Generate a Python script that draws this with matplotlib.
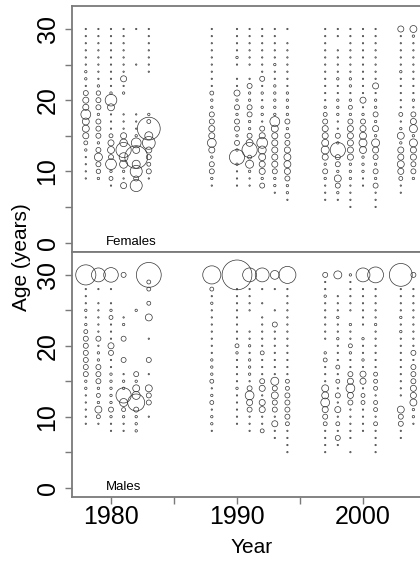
import matplotlib
matplotlib.use("Agg")
import matplotlib.pyplot as plt
import numpy as np

plt.rcParams['font.family'] = ['Liberation Sans', 'DejaVu Sans']

years = [1978, 1979, 1980, 1981, 1982, 1983, 1988, 1990, 1991, 1992, 1993, 1994,
         1997, 1998, 1999, 2000, 2001, 2003, 2004]
ages = list(range(30, 3, -1))  # 30 (plus group) down to 4

# proportion-at-age values (bubble area), ages 30..4, one row per year
females = [
    [.1,.1,.1,.1,.1, .1,.3,.3,.1,1.3, 1.9,1.9,5,2.5,2.5, 1.9,.8,.3,.1,.1, .1,.1,0,0,0, 0,0],  # 1978
    [.1,.1,.1,.1,.1, .1,.1,.1,.3,1.0, 1.3,1.3,.3,1.3,1.3, 1.3,.3,1.3,3.3,1.3, 1.0,.3,0,0,0, 0,0],  # 1979
    [.1,.1,.1,.1,.1, .1,.1,.1,.1,.3, 7,2.5,.1,.1,.1, .8,1.9,2.5,1.3,6, .3,.8,.1,0,0, 0,0],  # 1980
    [.1,.1,.1,.1,.1, .1,.1,1.9,.1,.3, 0,0,.1,.1,.1, 1.9,3,12,4,3.3, .3,.1,1.9,0,0, 0,0],  # 1981
    [.1,0,0,0,0, .1,0,0,0,0, 0,0,.1,.1,.1, .3,5,2.5,27,3.3, 7.5,1.3,7.5,0,0, 0,0],  # 1982
    [.1,.1,.1,.1,.1, .1,.1,0,0,0, 0,0,.3,.8,27, 3.3,8.5,1.9,1.3,.8, 1.3,.1,0,0,0, 0,0],  # 1983
    [.1,.1,.1,.1,.1, .1,.1,.1,.1,.8, .3,.3,1.3,1.3,1.9, 1.9,4,1.9,.3,1.3, 1.3,.3,.1,0,0, 0,0],  # 1988
    [.1,.1,.1,.1,.3, .1,0,.1,.1,1.9, .3,1.3,.3,1.3,1.3, .3,1.3,.3,12,.3, .1,.1,.1,0,0, 0,0],  # 1990
    [.1,.1,.1,.1,.1, .1,0,.1,1.3,.3, .3,1.3,1.3,.3,.3, 1.3,2.5,12,.8,3.3, .3,.1,.1,0,0, 0,0],  # 1991
    [.1,.1,.1,.1,.1, .1,.1,1.3,.1,.3, .1,.3,.3,.1,1.3, 1.9,6,3.3,2.5,1.9, 1.9,.3,1.3,0,0, 0,0],  # 1992
    [.1,.1,.1,.1,.1, .3,.1,.1,.3,.3, .3,.3,.3,5,2.5, 1.9,1.9,1.9,1.9,1.9, 1.3,.3,.3,.1,0, 0,0],  # 1993
    [.1,0,.1,.1,.1, .1,.1,.1,.1,.3, .3,.3,.3,1.3,.3, 1.3,1.3,1.9,2.5,2.5, 1.9,1.3,.3,.3,.1, 0,0],  # 1994
    [.1,.1,.1,.1,.1, .1,.1,.1,.1,.1, .1,.3,.8,1.3,1.9, 1.9,2.5,3.3,1.9,.3, 1.3,.3,.1,.1,.1, 0,0],  # 1997
    [.1,.1,0,.1,.1, .1,.1,.3,.1,.1, .3,.3,.3,.1,.1, 1.3,.3,12,1.3,1.3, .3,2.5,1.3,.3,.1, 0,0],  # 1998
    [.1,.1,.1,.1,.1, .1,.1,.3,.3,.1, .3,.8,.3,1.3,1.9, 1.9,1.9,1.9,1.9,.3, .3,.3,.1,.1,.1, .1,0],  # 1999
    [.1,.1,.1,.1,.1, .1,.1,.1,.1,.1, 1.9,.1,.3,1.3,1.9, 2.5,3.3,2.5,.3,.3, .3,.1,.1,0,0, 0,0],  # 2000
    [.1,.1,.1,.1,.1, .1,.1,.1,1.9,.1, .3,.3,1.3,.3,1.9, .3,3.3,1.9,1.3,.3, 1.3,.3,1.3,.1,.1, .1,0],  # 2001
    [1.9,.1,.1,.1,.1, .1,.3,.1,.1,.1, .1,.1,.8,.1,.3, 2.5,.3,1.9,1.9,2.5, 1.9,.8,.1,.1,0, 0,0],  # 2003
    [2.5,.3,.1,.1,.1, .1,.1,.1,.1,.1, .3,.1,1.3,1.9,3.3, .3,3.3,1.9,1.9,1.3, 1.3,.3,0,0,0, 0,0],  # 2004
]

males = [
    [21,0,.1,.1,.1, .3,.1,.3,.8,1.3, 1.3,1.3,1.3,1.3,1.3, .3,.3,.1,.1,.1, .1,.1,0,0,0, 0,0],  # 1978
    [10,0,.1,0,.1, .1,.1,.1,.1,1.3, .1,.3,.3,1.3,1.3, 1.3,.3,.8,.3,2.5, .8,.1,0,0,0, 0,0],  # 1979
    [11,0,.1,0,.1, .3,.8,.1,.1,.1, 1.9,1.3,.1,.1,.3, .3,.3,.3,.3,1.3, .3,.1,.1,0,0, 0,0],  # 1980
    [1.3,0,0,0,0, 0,.1,.3,0,1.3, 0,0,1.3,0,.1, .3,.3,12,3.3,.8, .3,.1,.1,0,0, 0,0],  # 1981
    [0,0,0,0,0, .3,0,0,0,0, 0,0,0,0,1.3, .3,2.5,3.3,15,1.3, .3,.3,.3,0,0, 0,0],  # 1982
    [32,.8,.8,0,.8, 0,2.5,0,0,.1, 0,0,1.3,0,.1, 0,2.5,1.3,1.3,0, .1,0,0,0,0, 0,0],  # 1983
    [17,0,.8,.1,.3, .1,.1,.1,.1,.1, .1,.1,.3,.3,.3, .8,.1,.3,.8,.1, .3,.3,.1,0,0, 0,0],  # 1988
    [46,0,.1,.1,.1, .1,.1,.1,.1,.1, .8,.3,.1,.1,.1, .1,.3,.1,.1,.1, .1,.1,0,0,0, 0,0],  # 1990
    [10,0,.1,.1,.1, .1,0,0,.1,.1, .3,.1,.3,.3,.3, .1,1.3,4,1.9,1.3, .1,.1,.1,0,0, 0,0],  # 1991
    [10,0,.1,0,.1, 0,.1,.1,.1,.1, .1,.8,.1,.1,.1, 1.3,1.9,.1,1.9,1.9, .1,.1,.8,0,0, 0,0],  # 1992
    [4,0,.1,0,0, .1,0,1.3,.1,.1, .1,.1,.1,.1,.1, 3.3,1.3,2.5,1.3,1.3, .1,1.9,.1,.1,0, 0,0],  # 1993
    [15,0,.1,.1,.1, .1,.1,.1,.1,.1, .1,.1,.1,.1,.1, .8,.8,1.3,1.3,1.3, 1.3,.8,.1,.1,.1, .1,0],  # 1994
    [1.3,.1,.1,.3,.1, .1,.1,.1,.1,.1, 0,.3,.8,.1,.1, .1,2.5,2.5,4,1.9, 1.3,.8,.1,.1,.1, .1,0],  # 1997
    [3.3,0,0,.1,.1, .1,.3,.1,.1,.3, .1,.1,.1,.8,.1, .8,.1,1.3,.1,1.9, .1,.8,.1,1.3,.1, 0,0],  # 1998
    [.3,.1,.1,.1,.1, .1,0,.3,.1,.1, .8,.3,.1,.1,1.3, 1.9,4,1.9,1.3,.1, .1,.1,.1,.1,0, .1,0],  # 1999
    [10,0,.1,.1,.1, .1,.1,.1,0,.3, .1,.1,.3,.1,1.9, 1.9,.1,.8,.8,.1, .1,.1,.1,0,0, 0,0],  # 2000
    [13,0,.1,.1,.1, .1,.1,.3,.1,.1, .1,.1,.1,.1,.8, .8,.8,.1,.8,.8, .1,.8,.1,.1,.1, .1,0],  # 2001
    [27,0,.1,.1,.1, .1,.3,.1,.3,.1, .1,.1,.1,.1,.1, .1,.1,.1,0,2.5, 1.3,1.3,.1,.1,0, 0,0],  # 2003
    [1.3,0,.1,.1,.1, .1,.1,.1,.1,.1, .1,1.3,.1,1.3,1.3, 1.3,1.9,1.9,2.5,.3, .3,.1,0,0,0, 0,0],  # 2004
]

panel_labels = ["Females", "Males"]
panel_label_x = [1981.6, 1981.0]
yticks = [0, 5, 10, 15, 20, 25, 30]
ytick_labels = ["0", "", "10", "", "20", "", "30"]
xticks = [1980, 1985, 1990, 1995, 2000]
xtick_labels = ["1980", "", "1990", "", "2000"]

# ---- layout (pixels) ----
W, H = 420, 562
left_px, right_px = 72, 432
top_px, mid_px, bot_px = 6, 252, 497
x_ref_px, x_ref_yr, ppy = 111, 1980, 12.6
xlim = (x_ref_yr - (x_ref_px - left_px) / ppy, x_ref_yr + (right_px - x_ref_px) / ppy)
ylim = (-1.33, 33.23)
scale = 10.0
spine_col = '#7a7a7a'
edge_col = '#333333'

fig = plt.figure(figsize=(W / 100, H / 100), dpi=100)
ax_top = fig.add_axes([left_px / W, 1 - mid_px / H, (right_px - left_px) / W, (mid_px - top_px) / H])
ax_bot = fig.add_axes([left_px / W, 1 - bot_px / H, (right_px - left_px) / W, (bot_px - mid_px) / H])

for ax, data, lab, lx in zip([ax_top, ax_bot], [females, males], panel_labels, panel_label_x):
    for yr, row in zip(years, data):
        vals = np.array(row, dtype=float)
        a = np.array(ages)
        m = vals > 0
        ax.scatter(np.full(m.sum(), yr), a[m], s=scale * vals[m],
                   facecolors='none', edgecolors=edge_col, linewidths=0.5, zorder=3)
    ax.set_xlim(*xlim)
    ax.set_ylim(*ylim)
    ax.set_yticks(yticks)
    ax.set_yticklabels(ytick_labels, rotation=90, va='center', fontsize=18)
    ax.tick_params(axis='y', direction='out', length=5, width=1, color=spine_col, pad=4)
    for sp in ['left', 'top', 'bottom']:
        ax.spines[sp].set_color(spine_col)
        ax.spines[sp].set_linewidth(1.3)
    ax.spines['right'].set_visible(False)
    ax.text(lx, 0.1, lab, ha='center', va='center', fontsize=9.5)

ax_top.set_xticks([])
ax_bot.set_xticks(xticks)
ax_bot.set_xticklabels(xtick_labels, fontsize=18)
ax_bot.tick_params(axis='x', direction='out', length=5, width=1, color=spine_col, pad=1)
ax_bot.set_xlabel("Year", fontsize=15, labelpad=6)

fig.text(22 / W, 1 - 257 / H, "Age (years)", rotation=90, ha='center', va='center', fontsize=15)

fig.savefig("out.png", dpi=100)
